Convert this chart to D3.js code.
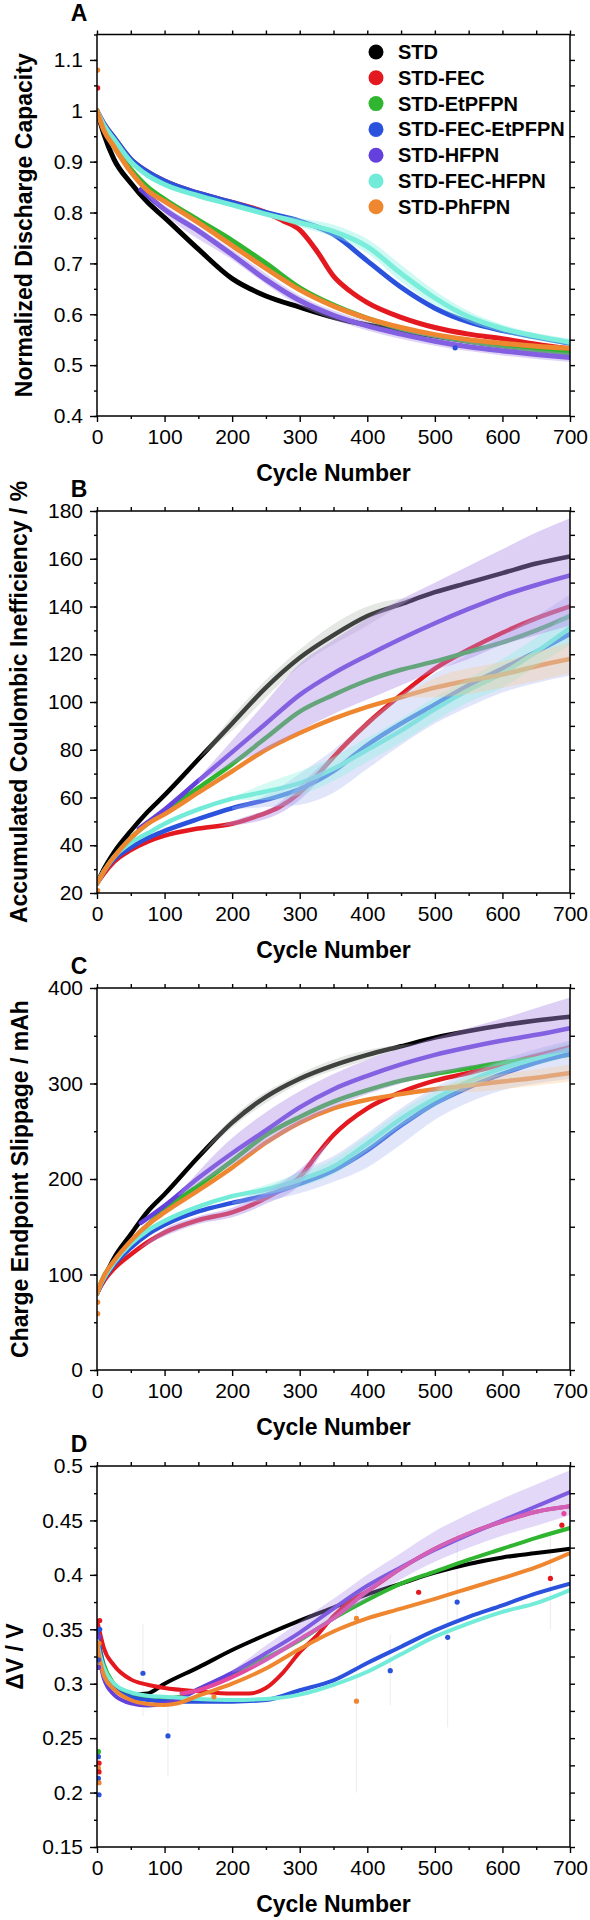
<!DOCTYPE html>
<html>
<head>
<meta charset="utf-8">
<script src="https://cdn.jsdelivr.net/npm/d3@7"></script>
<style>
  body { margin: 0; background: #fff; }
  text { font-family: "Liberation Sans", Arial, sans-serif; }
</style>
</head>
<body>
<svg id="chart"></svg>
<script>
// Series (legend order = draw order)
const seriesNames = ['STD', 'STD-FEC', 'STD-EtPFPN', 'STD-FEC-EtPFPN', 'STD-HFPN', 'STD-FEC-HFPN', 'STD-PhFPN'];
const seriesColors = ['#000000', '#e3191f', '#2fb52f', '#2a52dc', '#6440dc', '#72ecd8', '#ef8630'];
const pinkColor = '#e6489e';

const cycleTicks = [0, 100, 200, 300, 400, 500, 600, 700];

// A - Normalized discharge capacity  [cycle, value]
const capSTD = [[0,1.0],[10,0.955],[25,0.905],[50,0.858],[75,0.82],[100,0.79],[150,0.728],[200,0.67],[250,0.636],[300,0.614],[350,0.594],[400,0.579],[450,0.568],[500,0.557],[550,0.547],[600,0.538],[650,0.531],[700,0.525]];
const capFEC = [[0,1.0],[10,0.975],[25,0.948],[50,0.905],[75,0.88],[100,0.862],[150,0.838],[200,0.82],[250,0.8],[275,0.784],[300,0.766],[325,0.725],[350,0.675],[375,0.645],[400,0.623],[450,0.594],[500,0.574],[550,0.561],[600,0.552],[650,0.541],[700,0.532]];
const capEt = [[0,1.0],[10,0.965],[25,0.93],[50,0.885],[75,0.85],[100,0.826],[150,0.785],[200,0.745],[250,0.7],[300,0.652],[350,0.618],[400,0.592],[450,0.572],[500,0.558],[550,0.547],[600,0.538],[650,0.53],[700,0.524]];
const capFecEt = [[0,1.0],[10,0.975],[25,0.948],[50,0.905],[75,0.88],[100,0.862],[150,0.838],[200,0.82],[250,0.8],[300,0.783],[350,0.757],[400,0.705],[450,0.653],[500,0.612],[550,0.585],[600,0.568],[650,0.555],[700,0.543]];
const capHFPN = [[65,0.845],[100,0.806],[150,0.764],[200,0.717],[250,0.668],[300,0.627],[350,0.598],[400,0.577],[450,0.561],[500,0.547],[550,0.536],[600,0.528],[650,0.521],[700,0.515]];
const capFecH = [[0,1.0],[10,0.972],[25,0.944],[50,0.9],[75,0.873],[100,0.855],[150,0.833],[200,0.815],[250,0.797],[300,0.78],[350,0.763],[400,0.733],[450,0.68],[500,0.632],[550,0.595],[600,0.572],[650,0.557],[700,0.545]];
const capPh = [[0,1.0],[10,0.962],[25,0.93],[50,0.88],[75,0.843],[100,0.822],[150,0.78],[200,0.735],[250,0.69],[300,0.648],[350,0.616],[400,0.592],[450,0.574],[500,0.56],[550,0.55],[600,0.543],[650,0.537],[700,0.533]];
const capBandHFPN = [[70,0.84,0.84],[100,0.814,0.798],[200,0.727,0.707],[300,0.637,0.617],[400,0.586,0.568],[500,0.556,0.538],[600,0.537,0.519],[700,0.524,0.506]];
const capBandFecH = [[250,0.797,0.797],[300,0.789,0.772],[350,0.776,0.752],[400,0.748,0.72],[450,0.697,0.664],[500,0.646,0.618],[550,0.606,0.585],[600,0.58,0.564],[700,0.552,0.538]];
const capTicks = [0.4, 0.5, 0.6, 0.7, 0.8, 0.9, 1, 1.1];
const capDots = [[1,1.08,6],[1,1.045,1],[530,0.534,3]];

// B - Accumulated coulombic inefficiency / %
const ciSTD = [[0,24],[10,30],[25,37],[50,46],[75,54],[100,61],[150,76],[200,91],[250,106],[300,118.5],[350,128],[400,136],[450,141],[500,146],[550,150],[600,154],[650,158],[700,161]];
const ciFEC = [[0,24],[10,28],[25,33],[50,38],[75,41.5],[100,44],[150,47],[200,49],[240,52.5],[270,56],[300,62],[325,69],[350,77],[400,91],[450,103],[500,114],[550,122],[600,129],[650,135],[700,140]];
const ciEt = [[0,24],[10,29],[25,35],[50,43],[75,49],[100,54],[150,64],[200,74],[250,85],[300,96],[350,103],[400,109],[450,113.5],[500,117],[550,121],[600,125],[650,130],[700,136]];
const ciFecEt = [[0,24],[10,29],[25,34],[50,39],[75,43],[100,46],[150,51],[200,55.5],[250,59],[300,63.5],[350,71],[400,82],[450,91],[500,99],[550,107],[600,114],[650,121],[700,128.5]];
const ciHFPN = [[62,47],[100,55],[150,67],[200,79],[250,91],[300,103],[350,112],[400,119.5],[450,126.5],[500,133],[550,139],[600,144.5],[650,149],[700,153]];
const ciFecH = [[0,24],[10,29],[25,35],[50,41],[75,45],[100,49],[150,55],[200,59.5],[250,62.5],[300,66],[350,72],[400,80],[450,88],[500,97],[550,105],[600,112],[650,121],[700,131]];
const ciPh = [[0,24],[10,29],[25,35],[50,43],[75,49],[100,53],[150,62],[200,71],[250,80],[300,87],[350,93],[400,98],[450,102],[500,106],[550,109],[600,111.5],[650,115],[700,118]];
const ciBandSTD = [[150,76,76],[200,94,88],[300,122,115],[400,140,132],[470,144,144]];
const ciBandFEC = [[180,48,48],[220,52,49],[260,56,52],[300,65,59],[330,73,68],[350,77,77]];
const ciBandHFPN = [[150,68,66],[200,84,74],[250,100,80],[300,116,88],[350,126,95],[400,135,101],[450,143,107],[500,150,113],[550,157,118],[600,164,124],[650,171,128],[700,177,132]];
const ciBandFecEt = [[200,56,55],[250,61,56],[300,70,57],[350,80,62],[400,92,72],[450,103,82],[500,112,91],[550,120,98],[600,128,104],[650,136,108],[700,145,111]];
const ciBandFecH = [[200,60,59],[250,66,59],[300,71,61],[350,77,67],[400,85,75],[450,93,83],[500,102,92],[550,110,100],[600,118,106],[650,127,115],[700,138,124]];
const ciBandPh = [[450,102,102],[500,110,102],[600,117,106],[700,125,112]];
const ciTicks = [20, 40, 60, 80, 100, 120, 140, 160, 180];
const ciDots = [[1,21,6]];

// C - Charge endpoint slippage / mAh
const slipSTD = [[0,80],[5,89],[10,96],[25,117],[50,142],[75,166],[100,184],[150,223],[200,259],[250,286],[300,305],[350,319],[400,330],[450,339],[500,348],[550,355],[600,361],[650,366],[700,370]];
const slipFEC = [[0,80],[5,87],[10,93],[25,106],[50,121],[75,134],[100,144],[150,157],[200,165],[250,180],[275,190],[300,202],[325,225],[350,246],[400,274],[450,291],[500,303],[550,311],[600,320],[650,329],[700,338]];
const slipEt = [[0,80],[5,90],[10,98],[25,113],[50,134],[75,152],[100,168],[150,193],[200,219],[250,246],[300,265],[350,281],[400,293],[450,303],[500,310],[550,316],[600,322],[650,326],[700,330]];
const slipFecEt = [[0,80],[5,88],[10,95],[25,110],[50,128],[75,142],[100,152],[150,166],[200,175],[250,183],[300,195],[350,209],[400,230],[450,256],[500,279],[550,296],[600,310],[650,322],[700,331]];
const slipHFPN = [[65,154],[100,172],[150,201],[200,227],[250,251],[300,275],[350,294],[400,308],[450,320],[500,330],[550,338],[600,345],[650,351],[700,358]];
const slipFecH = [[0,80],[5,89],[10,96],[25,112],[50,132],[75,146],[100,156],[150,171],[200,182],[250,189],[300,199],[350,213],[400,237],[450,263],[500,284],[550,302],[600,316],[650,326],[700,336]];
const slipPh = [[0,80],[5,90],[10,98],[25,114],[50,135],[75,152],[100,165],[150,188],[200,212],[250,238],[300,259],[350,274],[400,283],[450,289],[500,294],[550,298],[600,302],[650,306],[700,311]];
const slipBandSTD = [[150,223,223],[200,264,254],[300,310,300],[400,335,325],[470,342,342]];
const slipBandFEC = [[60,126,126],[100,148,140],[150,161,153],[200,170,160],[250,186,174],[300,210,194],[330,230,224],[345,242,242]];
const slipBandHFPN = [[120,184,182],[200,243,215],[250,270,236],[300,292,257],[350,310,275],[400,325,289],[450,337,300],[500,348,309],[550,358,317],[600,368,324],[650,379,329],[700,390,333]];
const slipBandFecEt = [[200,176,174],[250,190,177],[300,208,185],[350,224,197],[400,248,212],[450,274,236],[500,296,262],[550,312,280],[600,325,293],[650,336,300],[700,345,305]];
const slipBandFecH = [[200,183,181],[250,194,184],[300,206,192],[350,221,205],[400,245,229],[450,271,255],[500,292,276],[550,309,295],[600,323,309],[650,333,319],[700,344,328]];
const slipBandPh = [[500,294,294],[550,305,291],[600,310,294],[700,320,302]];
const slipTicks = [0, 100, 200, 300, 400];
const slipDots = [[1,71,6],[1,59,6]];

// D - deltaV / V
const dvSTD = [[0,0.335],[5,0.322],[10,0.312],[25,0.299],[50,0.29],[75,0.291],[100,0.3],[150,0.315],[200,0.331],[250,0.345],[300,0.358],[350,0.37],[400,0.382],[450,0.392],[500,0.402],[550,0.41],[600,0.416],[650,0.42],[700,0.424]];
const dvFEC = [[0,0.358],[5,0.345],[10,0.333],[25,0.317],[50,0.304],[75,0.299],[100,0.296],[150,0.293],[200,0.291],[225,0.291],[250,0.296],[275,0.31],[300,0.329],[325,0.344],[350,0.362],[380,0.378],[400,0.385],[450,0.406],[500,0.424],[550,0.438],[600,0.449],[650,0.458],[700,0.463]];
const dvEt = [[0,0.343],[5,0.33],[10,0.318],[25,0.3],[50,0.289],[75,0.287],[100,0.2866],[125,0.288],[150,0.295],[200,0.309],[250,0.3236],[300,0.34],[350,0.36],[400,0.377],[450,0.392],[500,0.403],[550,0.414],[600,0.424],[650,0.434],[700,0.443]];
const dvFecEt = [[0,0.35],[5,0.33],[10,0.315],[25,0.296],[50,0.288],[75,0.285],[100,0.284],[150,0.2835],[200,0.2835],[250,0.285],[300,0.294],[350,0.303],[400,0.319],[450,0.334],[500,0.349],[550,0.3615],[600,0.372],[650,0.383],[700,0.392]];
const dvHFPN = [[0,0.33],[5,0.318],[10,0.305],[25,0.29],[50,0.282],[75,0.28],[100,0.282],[125,0.287],[150,0.295],[200,0.31],[250,0.328],[300,0.347],[350,0.369],[400,0.39],[450,0.407],[500,0.423],[550,0.437],[600,0.45],[650,0.463],[700,0.476]];
const dvFecH = [[0,0.34],[5,0.325],[10,0.315],[25,0.3],[50,0.292],[75,0.289],[100,0.288],[150,0.286],[200,0.285],[250,0.286],[300,0.29],[350,0.299],[400,0.311],[450,0.327],[500,0.3432],[550,0.3554],[600,0.366],[650,0.374],[700,0.386]];
const dvPh = [[0,0.338],[5,0.32],[10,0.308],[25,0.295],[50,0.285],[75,0.2814],[100,0.2805],[125,0.283],[150,0.289],[200,0.3],[250,0.314],[300,0.332],[350,0.348],[400,0.36],[450,0.369],[500,0.378],[550,0.3875],[600,0.397],[650,0.407],[700,0.42]];
const dvPink = [[125,0.291],[150,0.294],[200,0.306],[250,0.322],[300,0.341],[350,0.36],[400,0.385],[450,0.406],[500,0.424],[550,0.438],[600,0.449],[650,0.458],[700,0.463]];
const dvBandHFPN = [[200,0.312,0.31],[250,0.335,0.32],[300,0.357,0.338],[350,0.378,0.358],[400,0.4,0.378],[450,0.42,0.396],[500,0.44,0.412],[550,0.456,0.425],[600,0.47,0.436],[650,0.483,0.445],[700,0.496,0.455]];
const dvTicks = [0.15, 0.2, 0.25, 0.3, 0.35, 0.4, 0.45, 0.5];
// [cycle, value, series index]  (7 = pink)
const dvDots = [[2,0.2376,2],[2,0.233,3],[3,0.227,1],[2,0.2225,6],[3,0.219,1],[2,0.213,3],[3,0.209,6],[3,0.198,3],
  [4,0.358,1],[4,0.35,3],[3,0.343,4],[3,0.337,6],[2,0.322,3],[2,0.315,4],
  [68,0.3096,3],[105,0.252,3],[173,0.288,6],[384,0.284,6],[384,0.36,6],[434,0.312,3],[476,0.384,1],
  [519,0.3426,3],[533,0.375,3],[671,0.3967,1],[688,0.4456,1],[691,0.4563,7]];
// faint error bars of the outliers [cycle, low, high]
const dvErr = [[68,0.27,0.355],[105,0.215,0.285],[384,0.2,0.385],[434,0.28,0.345],[519,0.26,0.41],[533,0.35,0.44],[671,0.35,0.44]];

const width = 590;
const height = 1920;
const left = 97, right = 570;

const svg = d3.select('#chart')
  .attr('width', width)
  .attr('height', height)
  .attr('viewBox', `0 0 ${width} ${height}`);

const bandPurple = '#b090e8', bandBlue = '#a8b4f0', bandCyan = '#86f0e0', bandGray = '#b4bab4', bandOrange = '#f8c890';

const panels = [
  { label: 'A', top: 34.5, bottom: 416, domain: [0.4, 1.15], ticks: capTicks, minor: 0.05,
    title: 'Normalized Discharge Capacity', titleX: 32, lineW: 5,
    lines: [capSTD, capFEC, capEt, capFecEt, capHFPN, capFecH, capPh], extra: null, dots: capDots, err: [],
    bands: [[capBandHFPN, bandPurple, 0.4], [capBandFecH, bandCyan, 0.4]] },
  { label: 'B', top: 511, bottom: 893, domain: [20, 180], ticks: ciTicks, minor: 10,
    title: 'Accumulated Coulombic Inefficiency / %', titleX: 27, lineW: 4.5,
    lines: [ciSTD, ciFEC, ciEt, ciFecEt, ciHFPN, ciFecH, ciPh], extra: null, dots: ciDots, err: [],
    bands: [[ciBandSTD, bandGray, 0.35], [ciBandFEC, bandPurple, 0.45], [ciBandFecEt, bandBlue, 0.35], [ciBandFecH, bandCyan, 0.35], [ciBandPh, bandOrange, 0.35], [ciBandHFPN, bandPurple, 0.42]] },
  { label: 'C', top: 988, bottom: 1370, domain: [0, 400], ticks: slipTicks, minor: 50,
    title: 'Charge Endpoint Slippage / mAh', titleX: 28, lineW: 4.5,
    lines: [slipSTD, slipFEC, slipEt, slipFecEt, slipHFPN, slipFecH, slipPh], extra: null, dots: slipDots, err: [],
    bands: [[slipBandSTD, bandGray, 0.35], [slipBandFEC, bandPurple, 0.45], [slipBandFecEt, bandBlue, 0.35], [slipBandFecH, bandCyan, 0.35], [slipBandPh, bandOrange, 0.35], [slipBandHFPN, bandPurple, 0.42]] },
  { label: 'D', top: 1466, bottom: 1847, domain: [0.15, 0.5], ticks: dvTicks, minor: 0.025,
    title: 'ΔV / V', titleX: 23, lineW: 4,
    lines: [dvSTD, dvFEC, dvEt, dvFecEt, dvHFPN, dvFecH, dvPh], extra: dvPink, dots: dvDots, err: dvErr,
    bands: [[dvBandHFPN, bandPurple, 0.35]] }
];

const fmt = d => String(+d.toFixed(3));
const colorOf = i => i === 7 ? pinkColor : seriesColors[i];

panels.forEach(p => {
  const x = d3.scaleLinear().domain([0, 700]).range([left, right]);
  const y = d3.scaleLinear().domain(p.domain).range([p.bottom, p.top]);

  svg.append('clipPath').attr('id', 'clip' + p.label)
    .append('rect')
    .attr('x', left).attr('y', p.top)
    .attr('width', right - left).attr('height', p.bottom - p.top);

  const plot = svg.append('g').attr('clip-path', `url(#clip${p.label})`);

  const line = d3.line()
    .x(d => x(d[0]))
    .y(d => y(d[1]))
    .curve(d3.curveMonotoneX);

  const area = d3.area()
    .x(d => x(d[0]))
    .y0(d => y(d[2]))
    .y1(d => y(d[1]))
    .curve(d3.curveMonotoneX);

  // faint error bars
  plot.selectAll('line.err')
    .data(p.err)
    .join('line')
    .attr('x1', d => x(d[0])).attr('x2', d => x(d[0]))
    .attr('y1', d => y(d[1])).attr('y2', d => y(d[2]))
    .attr('stroke', '#c8c8d8')
    .attr('stroke-width', 1)
    .attr('opacity', 0.35);

  // curves
  p.lines.forEach((data, i) => {
    plot.append('path')
      .datum(data)
      .attr('d', line)
      .attr('fill', 'none')
      .attr('stroke', seriesColors[i])
      .attr('stroke-width', p.lineW)
      .attr('stroke-linecap', 'round');
  });
  if (p.extra) {
    plot.append('path')
      .datum(p.extra)
      .attr('d', line)
      .attr('fill', 'none')
      .attr('stroke', pinkColor)
      .attr('stroke-width', p.lineW)
      .attr('stroke-linecap', 'round');
  }

  // shaded bands over the curves
  p.bands.forEach(([data, color, op]) => {
    plot.append('path')
      .datum(data)
      .attr('d', area)
      .attr('fill', color)
      .attr('opacity', op);
  });

  // loose points
  plot.selectAll('circle.pt')
    .data(p.dots)
    .join('circle')
    .attr('cx', d => x(d[0]))
    .attr('cy', d => y(d[1]))
    .attr('r', 2.6)
    .attr('fill', d => colorOf(d[2]));

  // axes
  const minorY = d3.range(p.domain[0], p.domain[1] + 1e-9, p.minor);
  const styleAxis = g => {
    g.select('.domain').remove();
    g.selectAll('line').attr('stroke', '#000').attr('stroke-width', 1.4);
    g.selectAll('text').attr('font-size', 21).attr('font-family', '"Liberation Sans", Arial, sans-serif').attr('fill', '#000');
  };
  const tickOnly = g => {
    g.select('.domain').remove();
    g.selectAll('text').remove();
    g.selectAll('line').attr('stroke', '#000').attr('stroke-width', 1.4);
  };

  svg.append('g').attr('transform', `translate(0,${p.bottom})`)
    .call(d3.axisBottom(x).tickValues(cycleTicks).tickSize(6).tickPadding(7).tickFormat(d3.format('d')))
    .call(styleAxis);
  svg.append('g').attr('transform', `translate(0,${p.bottom})`)
    .call(d3.axisBottom(x).tickValues([50, 150, 250, 350, 450, 550, 650]).tickSize(3))
    .call(tickOnly);
  svg.append('g').attr('transform', `translate(0,${p.top})`)
    .call(d3.axisTop(x).tickValues(d3.range(0, 701, 50)).tickSize(4))
    .call(tickOnly);
  svg.append('g').attr('transform', `translate(${left},0)`)
    .call(d3.axisLeft(y).tickValues(p.ticks).tickSize(7).tickPadding(7).tickFormat(fmt))
    .call(styleAxis);
  svg.append('g').attr('transform', `translate(${left},0)`)
    .call(d3.axisLeft(y).tickValues(minorY).tickSize(3))
    .call(tickOnly);
  svg.append('g').attr('transform', `translate(${right},0)`)
    .call(d3.axisRight(y).tickValues(minorY).tickSize(5))
    .call(tickOnly);

  // frame
  svg.append('rect')
    .attr('x', left).attr('y', p.top)
    .attr('width', right - left).attr('height', p.bottom - p.top)
    .attr('fill', 'none')
    .attr('stroke', '#000')
    .attr('stroke-width', 1.5);

  // titles
  svg.append('text')
    .attr('x', (left + right) / 2)
    .attr('y', p.bottom + 65)
    .attr('text-anchor', 'middle')
    .attr('font-size', 23)
    .attr('font-weight', 'bold')
    .text('Cycle Number');

  svg.append('text')
    .attr('transform', `translate(${p.titleX},${(p.top + p.bottom) / 2}) rotate(-90)`)
    .attr('text-anchor', 'middle')
    .attr('font-size', 23)
    .attr('font-weight', 'bold')
    .text(p.title);

  svg.append('text')
    .attr('x', 79)
    .attr('y', p.top - 14)
    .attr('text-anchor', 'middle')
    .attr('font-size', 23)
    .attr('font-weight', 'bold')
    .text(p.label);
});

// legend (panel A)
const legend = svg.append('g')
  .selectAll('g')
  .data(seriesNames)
  .join('g')
  .attr('transform', (d, i) => `translate(376,${52 + i * 25.8})`);

legend.append('circle')
  .attr('r', 7.5)
  .attr('fill', (d, i) => seriesColors[i]);

legend.append('text')
  .attr('x', 22)
  .attr('dy', '0.35em')
  .attr('font-size', 20)
  .attr('font-weight', 'bold')
  .text(d => d);
</script>
</body>
</html>
